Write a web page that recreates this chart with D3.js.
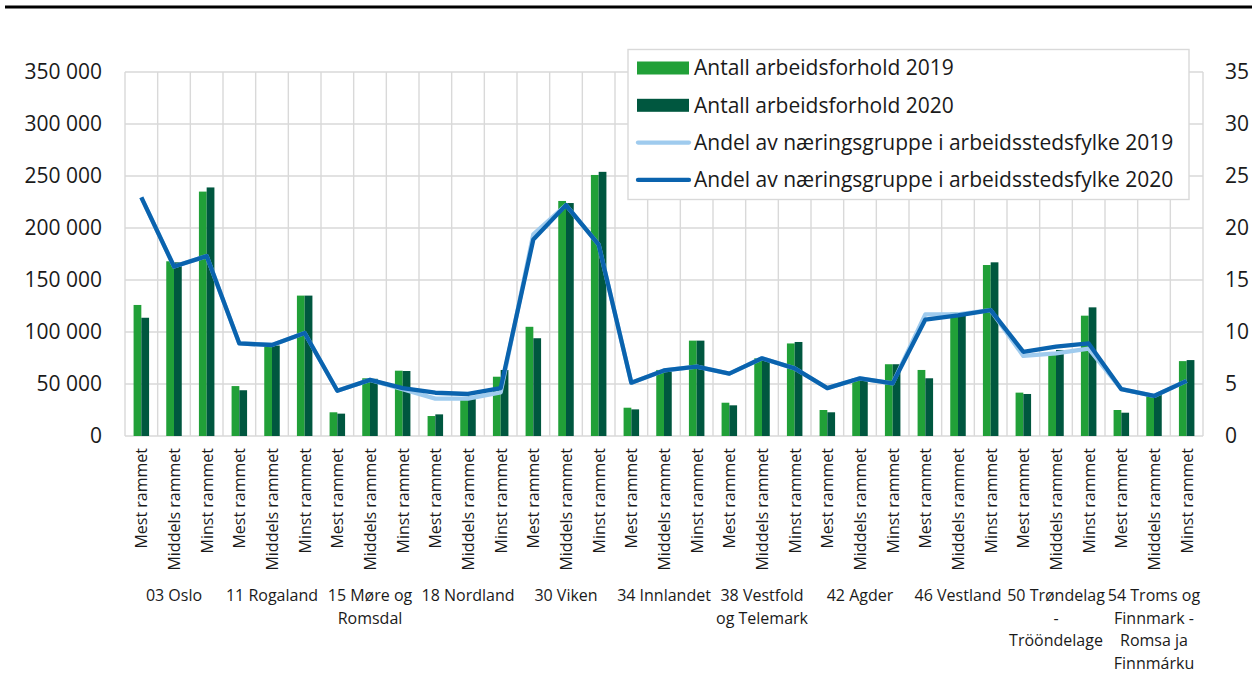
<!DOCTYPE html>
<html>
<head>
<meta charset="utf-8">
<script src="https://cdn.jsdelivr.net/npm/d3@7"></script>
<style>
  body { margin: 0; background: #fff; }
  svg { display: block; font-family: "Open Sans", sans-serif; }
</style>
</head>
<body>
<div id="chart"></div>
<script>
const regions = [
	"03 Oslo", "11 Rogaland", "15 Møre og\nRomsdal", "18 Nordland", "30 Viken",
	"34 Innlandet", "38 Vestfold\nog Telemark", "42 Agder", "46 Vestland",
	"50 Trøndelag\n-\nTrööndelage", "54 Troms og\nFinnmark -\nRomsa ja\nFinnmárku"
]
const levels = ["Mest rammet", "Middels rammet", "Minst rammet"]

const emp2019 = [
	126000, 168000, 235000, 48000, 87500, 135000, 22800, 55500, 62800,
	19200, 37000, 57000, 105000, 226000, 251000, 27200, 63500, 91700,
	32000, 74700, 89000, 25000, 55500, 69000, 63500, 118600, 164400,
	41700, 78000, 115700, 25000, 39400, 72000
]
const emp2020 = [
	113700, 167000, 239000, 44000, 87000, 135000, 21500, 55000, 62500,
	20800, 38000, 63500, 94000, 224000, 254000, 25600, 62000, 91700,
	29500, 74000, 90400, 22800, 54000, 69000, 55500, 118000, 167000,
	40400, 82700, 123700, 22400, 39400, 73000
]
const share2019 = [
	22.95, 16.3, 17.3, 8.9, 8.75, 9.9, 4.35, 5.4, 4.5,
	3.6, 3.6, 4.2, 19.4, 22.2, 18.4, 5.13, 6.3, 6.67,
	6.0, 7.47, 6.5, 4.6, 5.55, 5.06, 11.7, 11.7, 12.1,
	7.7, 7.95, 8.4, 4.5, 3.85, 5.3
]
const share2020 = [
	22.95, 16.3, 17.3, 8.9, 8.75, 9.9, 4.35, 5.4, 4.6,
	4.16, 4.04, 4.6, 18.9, 22.2, 18.4, 5.13, 6.3, 6.67,
	6.0, 7.47, 6.5, 4.6, 5.55, 5.06, 11.2, 11.6, 12.1,
	8.1, 8.6, 8.9, 4.5, 3.85, 5.3
]

const leftTicks = [0, 50000, 100000, 150000, 200000, 250000, 300000, 350000]
const rightTicks = [0, 5, 10, 15, 20, 25, 30, 35]
const legendLabels = [
	"Antall arbeidsforhold 2019", "Antall arbeidsforhold 2020",
	"Andel av næringsgruppe i arbeidsstedsfylke 2019",
	"Andel av næringsgruppe i arbeidsstedsfylke 2020"
]

const colors = { bar19: "#21a038", bar20: "#00573f", line19: "#9fcbee", line20: "#0a63ae", grid: "#d9d9d9" }

const width = 1252, height = 673
const m = { top: 72, right: 49, bottom: 237, left: 125 }

// one column per region x level
const cols = regions.flatMap((r, i) => levels.map((l, j) => ({ id: i * 3 + j, region: i, level: l })))

const svg = d3.select("#chart").append("svg")
	.attr("width", width)
	.attr("height", height)

svg.append("line")
	.attr("x1", 5).attr("x2", width).attr("y1", 7).attr("y2", 7)
	.attr("stroke", "#000").attr("stroke-width", 3)

const x = d3.scaleBand().domain(cols.map(d => d.id)).range([m.left, width - m.right])
const yL = d3.scaleLinear().domain([0, 350000]).range([height - m.bottom, m.top])
const yR = d3.scaleLinear().domain([0, 35]).range([height - m.bottom, m.top])
const xs = d3.scaleBand().domain(["2019", "2020"]).range([-7.75, 7.75])

const fmt = v => d3.format(",")(v).replace(/,/g, " ")

// grid
const grid = svg.append("g").attr("stroke", colors.grid).attr("stroke-width", 1.4)
grid.selectAll("line.h").data(leftTicks).join("line")
	.attr("class", "h")
	.attr("x1", m.left).attr("x2", width - m.right)
	.attr("y1", d => yL(d)).attr("y2", d => yL(d))
grid.selectAll("line.v").data(d3.range(cols.length + 1)).join("line")
	.attr("class", "v")
	.attr("x1", d => m.left + d * x.bandwidth()).attr("x2", d => m.left + d * x.bandwidth())
	.attr("y1", yL(350000)).attr("y2", yL(0))

// axes
svg.append("g")
	.attr("transform", `translate(${m.left - 23},0)`)
	.call(d3.axisLeft(yL).tickValues(leftTicks).tickFormat(fmt).tickSize(0).tickPadding(0))
	.call(g => g.select(".domain").remove())
	.call(g => g.selectAll("text").attr("font-size", 21).attr("font-family", "Open Sans").attr("fill", "#1a1a1a"))

svg.append("g")
	.attr("transform", `translate(${width - m.right + 22},0)`)
	.call(d3.axisRight(yR).tickValues(rightTicks).tickSize(0).tickPadding(0))
	.call(g => g.select(".domain").remove())
	.call(g => g.selectAll("text").attr("font-size", 21).attr("font-family", "Open Sans").attr("fill", "#1a1a1a"))

// bars
const bars = svg.append("g")
cols.forEach(c => {
	const cx = x(c.id) + x.bandwidth() / 2
	bars.append("rect")
		.attr("x", cx + xs("2019")).attr("width", xs.bandwidth())
		.attr("y", yL(emp2019[c.id])).attr("height", yL(0) - yL(emp2019[c.id]))
		.attr("fill", colors.bar19)
	bars.append("rect")
		.attr("x", cx + xs("2020")).attr("width", xs.bandwidth())
		.attr("y", yL(emp2020[c.id])).attr("height", yL(0) - yL(emp2020[c.id]))
		.attr("fill", colors.bar20)
})

// lines
const line = d3.line()
	.x((d, i) => x(i) + x.bandwidth() / 2)
	.y(d => yR(d))

svg.append("path").datum(share2019)
	.attr("d", line).attr("fill", "none")
	.attr("stroke", colors.line19).attr("stroke-width", 4.3).attr("stroke-linejoin", "round")
svg.append("path").datum(share2020)
	.attr("d", line).attr("fill", "none")
	.attr("stroke", colors.line20).attr("stroke-width", 4.3).attr("stroke-linejoin", "round")

// category labels (rotated)
svg.append("g").selectAll("text").data(cols).join("text")
	.attr("transform", d => `translate(${x(d.id) + x.bandwidth() / 2 + 6},${yL(0) + 12}) rotate(-90)`)
	.attr("text-anchor", "end")
	.attr("font-size", 16)
	.attr("fill", "#1a1a1a")
	.text(d => d.level)

// region labels
svg.append("g").selectAll("text").data(regions).join("text")
	.attr("text-anchor", "middle")
	.attr("font-size", 16)
	.attr("fill", "#1a1a1a")
	.attr("transform", (d, i) => `translate(${x(i * 3) + x.bandwidth() * 1.5},601)`)
	.selectAll("tspan").data(d => d.split("\n")).join("tspan")
	.attr("x", 0)
	.attr("dy", (d, i) => i ? 22.7 : 0)
	.text(d => d)

// legend
const lg = svg.append("g").attr("transform", "translate(628,49.5)")
lg.append("rect")
	.attr("width", 561).attr("height", 150)
	.attr("fill", "#fff").attr("stroke", colors.grid).attr("stroke-width", 1.4)
const items = lg.selectAll("g").data(legendLabels).join("g")
	.attr("transform", (d, i) => `translate(0,${18.5 + i * 37.3})`)
items.each(function (d, i) {
	const g = d3.select(this)
	if (i < 2) {
		g.append("rect").attr("x", 9).attr("y", -6.5).attr("width", 52).attr("height", 13)
			.attr("fill", i ? colors.bar20 : colors.bar19)
	} else {
		g.append("line").attr("x1", 10).attr("x2", 61).attr("y1", 0).attr("y2", 0)
			.attr("stroke", i === 2 ? colors.line19 : colors.line20)
			.attr("stroke-width", 4.3).attr("stroke-linecap", "round")
	}
	g.append("text").attr("x", 66).attr("dy", "0.35em")
		.attr("font-size", 21).attr("fill", "#1a1a1a").text(d)
})
</script>
</body>
</html>
